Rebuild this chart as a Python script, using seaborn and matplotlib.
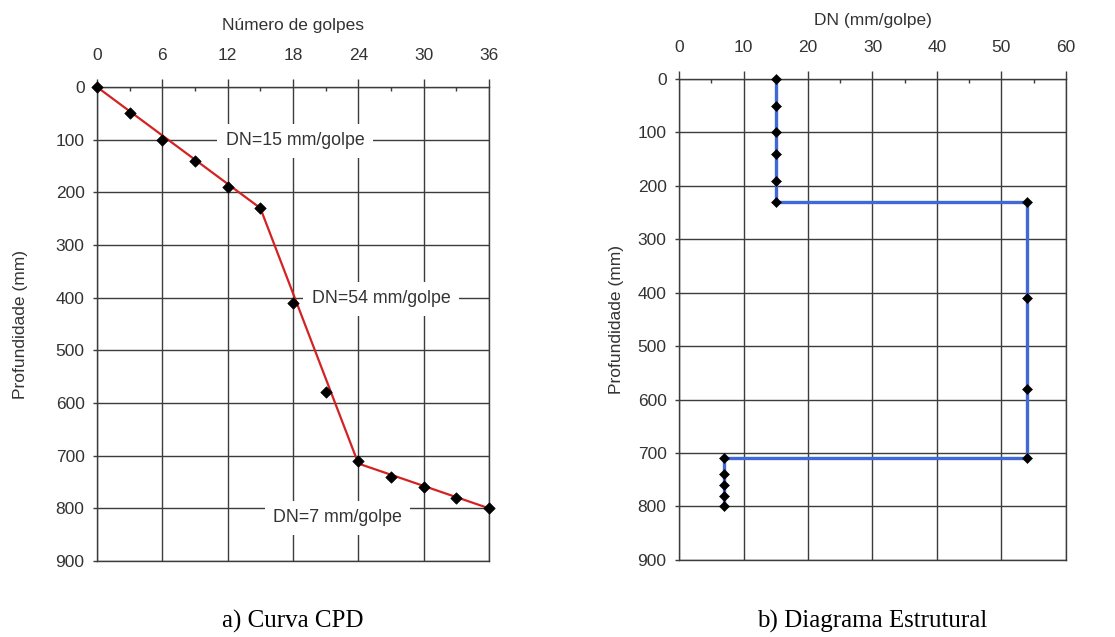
import matplotlib
matplotlib.use("Agg")
import matplotlib.pyplot as plt
import pandas as pd
import seaborn as sns
from matplotlib.ticker import MultipleLocator

sns.set_style("white")
plt.rcParams["font.family"] = ["Liberation Sans", "DejaVu Sans"]

# a) Curva CPD - measured points
golpes = [0, 3, 6, 9, 12, 15, 18, 21, 24, 27, 30, 33, 36]
profundidade = [0, 50, 100, 140, 190, 230, 410, 580, 710, 740, 760, 780, 800]

# fitted segments of the CPD curve
ajuste_golpes = [0, 15, 24, 36]
ajuste_prof = [0, 230, 715, 800]

# b) Diagrama Estrutural - DN per point
dn_pontos = [15, 15, 15, 15, 15, 15, 54, 54, 54, 54, 7, 7, 7, 7, 7]
prof_pontos = [0, 50, 100, 140, 190, 230, 230, 410, 580, 710, 710, 740, 760, 780, 800]

# layers of the structural diagram
camadas_dn = [15, 54, 7]
camadas_limites = [0, 230, 710, 800]

rotulos_dn = ["DN=15 mm/golpe", "DN=54 mm/golpe", "DN=7 mm/golpe"]
rotulos_x = [18.2, 26.1, 22.1]
rotulos_y = [102, 402, 818]

GRID = "#3c3c3c"
TXT = "#333333"

fig = plt.figure(figsize=(11.15, 6.37), dpi=100)
ax1 = fig.add_axes([0.087, 0.1193, 0.3516, 0.7441])
ax2 = fig.add_axes([0.609, 0.121, 0.347, 0.755])


def style_axis(ax, xmax, xmajor, xminor, xlabel, ypad):
    ax.set_xlim(0, xmax)
    ax.set_ylim(900, 0)
    ax.xaxis.tick_top()
    ax.xaxis.set_label_position("top")
    ax.xaxis.set_major_locator(MultipleLocator(xmajor))
    ax.xaxis.set_minor_locator(MultipleLocator(xminor))
    ax.yaxis.set_major_locator(MultipleLocator(100))
    ax.grid(True, which="major", color=GRID, linewidth=1.0, zorder=0)
    ax.set_axisbelow(True)
    for s in ax.spines.values():
        s.set_color(GRID)
        s.set_linewidth(1.0)
    ax.tick_params(axis="x", which="major", direction="out", length=6,
                   width=1, color=GRID, pad=11, labelsize=12.5, labelcolor=TXT)
    ax.tick_params(axis="x", which="minor", direction="in", length=3,
                   width=1, color=GRID, top=True, bottom=False)
    ax.tick_params(axis="y", which="major", direction="out", length=3,
                   width=1, color=GRID, pad=6, labelsize=12.5, labelcolor=TXT,
                   left=True)
    ax.set_xlabel(xlabel, fontsize=12.5, color=TXT, labelpad=13)
    ax.set_ylabel("Profundidade (mm)", fontsize=12.5, color=TXT, labelpad=ypad)


# left panel
style_axis(ax1, 36, 6, 3, "Número de golpes", 20)
fit_df = pd.DataFrame({"golpes": ajuste_golpes, "prof": ajuste_prof})
sns.lineplot(data=fit_df, x="golpes", y="prof", sort=False, estimator=None,
             color="#d32222", linewidth=1.6, ax=ax1, zorder=3)
pts_df = pd.DataFrame({"golpes": golpes, "prof": profundidade})
sns.scatterplot(data=pts_df, x="golpes", y="prof", marker="D", s=34,
                color="black", edgecolor="black", ax=ax1, zorder=4, clip_on=False)
for txt, x, y in zip(rotulos_dn, rotulos_x, rotulos_y):
    ax1.text(x, y, txt, ha="center", va="center", fontsize=12.8, color=TXT,
             zorder=2.5, bbox=dict(facecolor="white", edgecolor="none", pad=6))
ax1.set_xlabel("Número de golpes", fontsize=12.5, color=TXT, labelpad=13)
ax1.set_ylabel("Profundidade (mm)", fontsize=12.5, color=TXT, labelpad=20)

# right panel
style_axis(ax2, 60, 10, 5, "DN (mm/golpe)", 10)
passo_dn, passo_prof = [], []
for i, dn in enumerate(camadas_dn):
    passo_dn += [dn, dn]
    passo_prof += [camadas_limites[i], camadas_limites[i + 1]]
step_df = pd.DataFrame({"dn": passo_dn, "prof": passo_prof})
sns.lineplot(data=step_df, x="dn", y="prof", sort=False, estimator=None,
             color="#4169d6", linewidth=2.4, ax=ax2, zorder=3)
dn_df = pd.DataFrame({"dn": dn_pontos, "prof": prof_pontos})
sns.scatterplot(data=dn_df, x="dn", y="prof", marker="D", s=26,
                color="black", edgecolor="black", ax=ax2, zorder=4, clip_on=False)
ax2.set_xlabel("DN (mm/golpe)", fontsize=12.5, color=TXT, labelpad=11)
ax2.set_ylabel("Profundidade (mm)", fontsize=12.5, color=TXT, labelpad=10)

fig.text(0.2628, 0.025, "a) Curva CPD", ha="center", va="center",
         fontsize=18, family=["Liberation Serif", "DejaVu Serif"], color="black")
fig.text(0.7825, 0.025, "b) Diagrama Estrutural", ha="center", va="center",
         fontsize=18, family=["Liberation Serif", "DejaVu Serif"], color="black")

fig.savefig("out.png", dpi=100)
